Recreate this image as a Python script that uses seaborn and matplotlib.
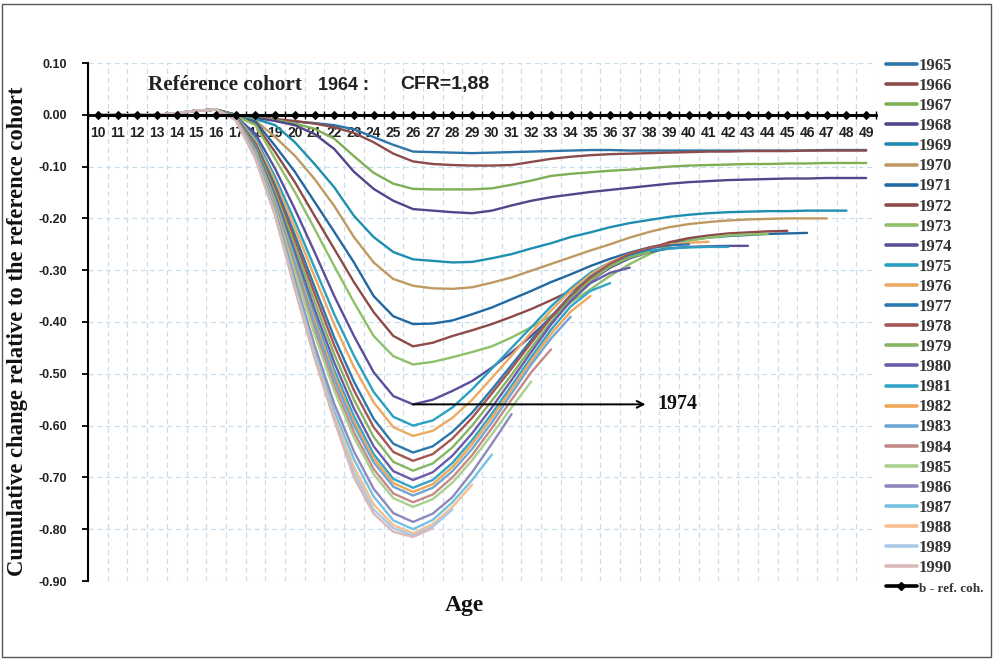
import numpy as np
import pandas as pd
import matplotlib
matplotlib.use("Agg")
import matplotlib.pyplot as plt
import seaborn as sns
from matplotlib.lines import Line2D
from matplotlib.patches import Rectangle

# ---------------- data ----------------
AGES = list(range(10, 50))
EARLY = [0.0, 0.0, 0.0, 0.0, 0.003, 0.008, 0.010]          # ages 10-16 (common)
COHORTS = list(range(1965, 1991))

C1965 = [0.0, -0.005, -0.010, -0.013, -0.016, -0.020, -0.028, -0.043, -0.058, -0.071,
         -0.072, -0.073, -0.074, -0.073, -0.072, -0.071, -0.070, -0.069, -0.068, -0.068,
         -0.069, -0.069, -0.069, -0.069, -0.069, -0.069, -0.069, -0.069, -0.069, -0.069,
         -0.068, -0.068, -0.068]
C1966 = [0.0, -0.004, -0.008, -0.012, -0.017, -0.024, -0.035, -0.053, -0.075, -0.090,
         -0.095, -0.097, -0.098, -0.098, -0.097, -0.091, -0.085, -0.081, -0.078, -0.076,
         -0.075, -0.074, -0.073, -0.072, -0.071, -0.071, -0.070, -0.070, -0.070, -0.069,
         -0.069, -0.069, -0.069]
C1967 = [0.0, -0.005, -0.010, -0.017, -0.027, -0.046, -0.080, -0.112, -0.133, -0.143,
         -0.144, -0.144, -0.144, -0.142, -0.135, -0.127, -0.118, -0.114, -0.111, -0.108,
         -0.106, -0.103, -0.100, -0.098, -0.097, -0.096, -0.095, -0.095, -0.094, -0.094,
         -0.093, -0.093, -0.093]
C1968 = [0.0, -0.006, -0.012, -0.020, -0.037, -0.066, -0.110, -0.143, -0.166, -0.182,
         -0.185, -0.188, -0.190, -0.185, -0.175, -0.166, -0.159, -0.154, -0.149, -0.145,
         -0.141, -0.137, -0.133, -0.130, -0.128, -0.126, -0.125, -0.124, -0.123, -0.123,
         -0.122, -0.122, -0.122]
C1969 = [-0.001, -0.008, -0.020, -0.053, -0.095, -0.140, -0.195, -0.236, -0.265, -0.279,
         -0.282, -0.285, -0.284, -0.277, -0.269, -0.258, -0.248, -0.236, -0.227, -0.217,
         -0.209, -0.203, -0.197, -0.193, -0.190, -0.188, -0.187, -0.186, -0.186, -0.185,
         -0.185, -0.185]
C1970 = [-0.001, -0.011, -0.043, -0.079, -0.124, -0.176, -0.236, -0.285, -0.317, -0.330,
         -0.335, -0.336, -0.333, -0.324, -0.314, -0.301, -0.288, -0.275, -0.262, -0.250,
         -0.237, -0.226, -0.217, -0.211, -0.207, -0.204, -0.202, -0.201, -0.200, -0.200,
         -0.200]
C1971 = [-0.002, -0.013, -0.060, -0.110, -0.168, -0.226, -0.285, -0.350, -0.389, -0.404,
         -0.403, -0.397, -0.385, -0.372, -0.356, -0.340, -0.323, -0.308, -0.292, -0.278,
         -0.266, -0.256, -0.248, -0.242, -0.237, -0.234, -0.232, -0.230, -0.229, -0.228]
C1972 = [-0.002, -0.018, -0.072, -0.130, -0.195, -0.259, -0.323, -0.381, -0.427, -0.447,
         -0.440, -0.427, -0.416, -0.404, -0.390, -0.375, -0.358, -0.340, -0.317, -0.295,
         -0.275, -0.259, -0.246, -0.238, -0.233, -0.229, -0.227, -0.225, -0.224]
C1973 = [-0.002, -0.020, -0.085, -0.149, -0.220, -0.292, -0.362, -0.427, -0.466, -0.482,
         -0.477, -0.468, -0.458, -0.447, -0.430, -0.410, -0.388, -0.362, -0.337, -0.311,
         -0.288, -0.269, -0.253, -0.243, -0.237, -0.233, -0.231, -0.230]
C1974 = [-0.003, -0.037, -0.104, -0.182, -0.265, -0.350, -0.427, -0.497, -0.543, -0.559,
         -0.550, -0.533, -0.514, -0.488, -0.459, -0.427, -0.391, -0.356, -0.321, -0.295,
         -0.277, -0.265, -0.258, -0.255, -0.254, -0.253, -0.253]
C1975 = [-0.003, -0.045, -0.120, -0.205, -0.295, -0.385, -0.465, -0.535, -0.583, -0.600,
         -0.590, -0.565, -0.530, -0.490, -0.450, -0.410, -0.370, -0.335, -0.305, -0.285,
         -0.272, -0.263, -0.258, -0.256, -0.255, -0.255]
C1976 = [-0.004, -0.050, -0.128, -0.218, -0.312, -0.405, -0.487, -0.555, -0.603, -0.620,
         -0.610, -0.585, -0.550, -0.508, -0.465, -0.420, -0.378, -0.340, -0.308, -0.285,
         -0.268, -0.257, -0.250, -0.247, -0.245]
C1977 = [-0.005, -0.055, -0.137, -0.232, -0.332, -0.430, -0.515, -0.587, -0.635, -0.652,
         -0.640, -0.612, -0.575, -0.530, -0.483, -0.435, -0.390, -0.348, -0.313, -0.288,
         -0.270, -0.258, -0.252, -0.250]
C1978 = [-0.005, -0.058, -0.143, -0.242, -0.345, -0.445, -0.532, -0.603, -0.651, -0.668,
         -0.655, -0.625, -0.585, -0.538, -0.490, -0.440, -0.392, -0.350, -0.315, -0.288,
         -0.268, -0.256, -0.250]
C1979 = [-0.006, -0.061, -0.150, -0.253, -0.360, -0.462, -0.550, -0.622, -0.670, -0.687,
         -0.673, -0.642, -0.600, -0.552, -0.502, -0.450, -0.400, -0.356, -0.320, -0.293,
         -0.275, -0.265]
C1980 = [-0.006, -0.064, -0.157, -0.265, -0.375, -0.478, -0.567, -0.640, -0.688, -0.705,
         -0.690, -0.658, -0.615, -0.565, -0.512, -0.458, -0.405, -0.360, -0.325, -0.305,
         -0.295]
C1981 = [-0.007, -0.067, -0.163, -0.275, -0.388, -0.493, -0.582, -0.655, -0.703, -0.720,
         -0.705, -0.672, -0.628, -0.577, -0.523, -0.468, -0.415, -0.370, -0.340, -0.325]
C1982 = [-0.007, -0.069, -0.167, -0.282, -0.396, -0.502, -0.592, -0.663, -0.711, -0.728,
         -0.713, -0.680, -0.636, -0.585, -0.530, -0.475, -0.423, -0.380, -0.350]
C1983 = [-0.008, -0.071, -0.171, -0.288, -0.404, -0.510, -0.600, -0.671, -0.718, -0.735,
         -0.720, -0.688, -0.645, -0.594, -0.538, -0.482, -0.432, -0.390]
C1984 = [-0.008, -0.073, -0.176, -0.296, -0.415, -0.522, -0.613, -0.684, -0.731, -0.748,
         -0.733, -0.700, -0.657, -0.605, -0.550, -0.497, -0.453]
C1985 = [-0.009, -0.075, -0.180, -0.303, -0.424, -0.532, -0.623, -0.694, -0.740, -0.757,
         -0.742, -0.710, -0.667, -0.617, -0.565, -0.515]
C1986 = [-0.009, -0.079, -0.187, -0.318, -0.445, -0.558, -0.650, -0.722, -0.769, -0.786,
         -0.770, -0.738, -0.690, -0.635, -0.578]
C1987 = [-0.010, -0.081, -0.191, -0.326, -0.456, -0.572, -0.665, -0.737, -0.783, -0.800,
         -0.782, -0.748, -0.705, -0.656]
C1988 = [-0.010, -0.083, -0.193, -0.332, -0.463, -0.582, -0.680, -0.752, -0.792, -0.808,
         -0.790, -0.757, -0.714]
C1989 = [-0.010, -0.084, -0.194, -0.335, -0.467, -0.587, -0.690, -0.762, -0.798, -0.812,
         -0.795, -0.762]
C1990 = [-0.010, -0.085, -0.195, -0.337, -0.470, -0.590, -0.700, -0.770, -0.805, -0.815,
         -0.798]

SERIES = [C1965, C1966, C1967, C1968, C1969, C1970, C1971, C1972, C1973, C1974,
          C1975, C1976, C1977, C1978, C1979, C1980, C1981, C1982, C1983, C1984,
          C1985, C1986, C1987, C1988, C1989, C1990]

REF_LABEL = "b - ref. coh."
REF_VALUES = [0.0] * len(AGES)

YTICKS = [0.10, 0.00, -0.10, -0.20, -0.30, -0.40, -0.50, -0.60, -0.70, -0.80, -0.90]
ANNOT_COHORT = 1974
ANNOT_AGE = 26

COLORS = ['#2E75A8', '#8B4B4B', '#7FAF55', '#52458A', '#1F8FB0', '#BE9A62',
          '#2369A0', '#8E4A48', '#8EC06A', '#5B4F9A', '#2A9FC0', '#EBAA62',
          '#2B78AC', '#A65652', '#84B662', '#6B5BA8', '#33A6C6', '#F0A75A',
          '#6FA6D2', '#C48A88', '#A9D08E', '#8E89BC', '#74C2E2', '#F6C08E',
          '#A9C9E6', '#D9B8B6']

# ---------------- build table ----------------
rows = []
for coh, vals in zip(COHORTS, SERIES):
    full = EARLY + vals
    for i, v in enumerate(full):
        rows.append({"age": AGES[i], "value": v, "cohort": str(coh)})
df = pd.DataFrame(rows)
palette = {str(c): col for c, col in zip(COHORTS, COLORS)}

# ---------------- plot ----------------
sns.set_theme(style="white")
plt.rcParams['font.family'] = ['Liberation Sans', 'DejaVu Sans']

W, H = 995, 660
fig = plt.figure(figsize=(W / 100, H / 100), dpi=100)
ax = fig.add_axes([88 / W, 1 - 581 / H, (876 - 88) / W, (581 - 63) / H])
ax.set_facecolor('white')

sns.lineplot(data=df, x="age", y="value", hue="cohort", palette=palette,
             hue_order=[str(c) for c in COHORTS], linewidth=1.7, legend=False,
             errorbar=None, ax=ax)
sns.lineplot(x=AGES, y=REF_VALUES, color='black', marker='D', markersize=4,
             markeredgecolor='black', linewidth=2.2, ax=ax, zorder=6, errorbar=None)

ax.set_xlim(9.5, 49.5)
ax.set_ylim(-0.9, 0.1)
ax.set_axisbelow(True)

ax.set_xticks(AGES)
ax.set_xticklabels([str(a) for a in AGES])
ax.set_xticks(np.arange(9.5, 50.0, 1.0), minor=True)
ax.set_yticks(YTICKS)
ax.set_yticklabels([f"{t:.2f}" for t in YTICKS])

grid_kw = dict(color='#C8DDEC', linewidth=0.9, linestyle=(0, (4, 3)))
ax.grid(which='minor', axis='x', **grid_kw)
ax.grid(which='major', axis='y', **grid_kw)
ax.grid(which='major', axis='x', visible=False)

for s in ['top', 'right']:
    ax.spines[s].set_visible(False)
ax.spines['left'].set_color('black')
ax.spines['left'].set_linewidth(1.5)
ax.spines['bottom'].set_position(('data', 0))
ax.spines['bottom'].set_color('black')
ax.spines['bottom'].set_linewidth(2)
ax.spines['bottom'].set_zorder(5)

ax.tick_params(axis='x', which='major', length=0, pad=8, labelsize=10,
               labelcolor='#222222')
ax.tick_params(axis='x', which='minor', length=6, width=1, direction='inout',
               color='black', bottom=True)
ax.tick_params(axis='y', which='major', length=4, width=1.3, direction='out',
               color='black', left=True, pad=11, labelsize=9, labelcolor='#222222')
for lab in ax.get_xticklabels() + ax.get_yticklabels():
    lab.set_fontweight('bold')
    lab.set_family('Liberation Sans')
ax.set_xlabel("")
ax.set_ylabel("")

# annotation arrow
idx = COHORTS.index(ANNOT_COHORT)
yv = (EARLY + SERIES[idx])[AGES.index(ANNOT_AGE)]
ax.annotate("", xy=(37.8, yv), xytext=(ANNOT_AGE, yv),
            arrowprops=dict(arrowstyle='->', lw=1.4, color='black',
                            shrinkA=0, shrinkB=0, mutation_scale=12), zorder=7)
ax.text(38.4, yv, str(ANNOT_COHORT), ha='left', va='center', fontsize=14.5,
        fontweight='bold', family='Liberation Serif', color='#111111', zorder=7)

# title texts
ty = 1 - 85 / H
fig.text(148 / W, ty, "Reférence cohort", ha='left', va='center', fontsize=15.2,
         fontweight='bold', family='Liberation Serif', color='#222222')
fig.text(318 / W, ty, "1964 :", ha='left', va='center', fontsize=13,
         fontweight='bold', family='Liberation Sans', color='#222222')
fig.text(400 / W, ty, "CFR=1,88", ha='left', va='center', fontsize=14,
         fontweight='bold', family='Liberation Sans', color='#222222')

# axis labels
fig.text(18 / W, 1 - 331 / H, "Cumulative change relative to the reference cohort",
         rotation=90, ha='center', va='center', fontsize=16.3, fontweight='bold',
         family='Liberation Serif', color='#111111')
fig.text(464 / W, 1 - 606 / H, "Age", ha='center', va='center', fontsize=17,
         fontweight='bold', family='Liberation Serif', color='#111111')

# legend
handles = [Line2D([], [], color=c, lw=2.6) for c in COLORS]
labels = [str(c) for c in COHORTS]
handles.append(Line2D([], [], color='black', lw=2.6, marker='D', markersize=4))
labels.append(REF_LABEL)
leg = fig.legend(handles, labels, loc='upper left',
                 bbox_to_anchor=(886 / W, 1 - 58 / H), frameon=False,
                 prop={'family': 'Liberation Serif', 'weight': 'bold', 'size': 12},
                 handlelength=1.85, handletextpad=0.12, labelspacing=0.245,
                 borderpad=0, borderaxespad=0)
for t in leg.get_texts():
    t.set_color('#333333')
leg.get_texts()[-1].set_fontsize(9.5)

# outer border
fig.patches.append(Rectangle((2 / W, 3 / H), 989 / W, 653 / H, transform=fig.transFigure,
                             fill=False, edgecolor='#555555', linewidth=1))

fig.savefig("out.png", dpi=100)
